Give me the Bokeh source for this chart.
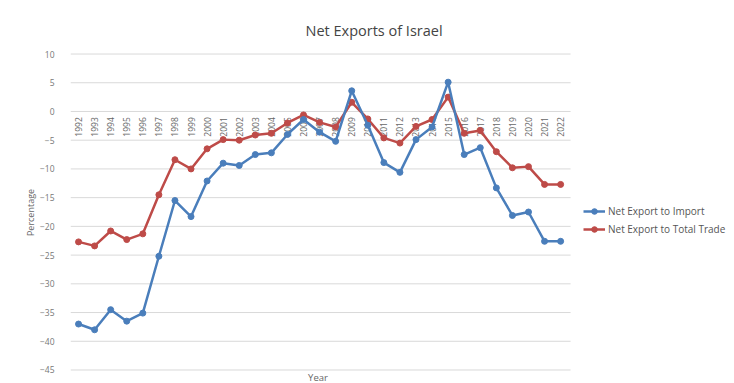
import math
from bokeh.plotting import figure
from bokeh.models import Range1d, FixedTicker, Label, Legend, LegendItem, ColumnDataSource
from bokeh.core.properties import value
from bokeh.embed import file_html
from bokeh.resources import INLINE

years = list(range(1992, 2023))
year_labels = [str(y) for y in years]
net_export_to_import = [-37.0, -38.0, -34.5, -36.5, -35.1, -25.2, -15.5, -18.3, -12.1, -9.0,
                        -9.4, -7.5, -7.2, -4.0, -1.4, -3.6, -5.2, 3.6, -2.4, -8.9,
                        -10.6, -4.9, -2.7, 5.1, -7.5, -6.3, -13.3, -18.1, -17.5, -22.6, -22.6]
net_export_to_total = [-22.7, -23.4, -20.8, -22.3, -21.3, -14.5, -8.4, -10.0, -6.5, -4.9,
                       -5.0, -4.1, -3.8, -2.0, -0.6, -1.9, -2.7, 1.6, -1.3, -4.6,
                       -5.5, -2.6, -1.4, 2.5, -3.8, -3.3, -7.0, -9.8, -9.6, -12.7, -12.7]
y_ticks = list(range(-45, 15, 5))

FONT = "Open Sans"
BLUE = "#4A7EBB"
RED = "#BE4B48"

X_LO, X_HI = 1991.5, 2022.62

p = figure(width=734, height=383, output_backend="svg", toolbar_location=None,
           x_range=Range1d(X_LO, 2032.82), y_range=Range1d(-47.35, 12.18),
           min_border_left=70, min_border_right=0, min_border_top=41, min_border_bottom=0)
p.outline_line_color = None
p.background_fill_color = "white"
p.border_fill_color = "white"

p.title.text = "Net Exports of Israel"
p.title.align = "left"
p.title.offset = 235
p.title.standoff = 3
p.title.text_font = FONT
p.title.text_font_size = "14.5px"
p.title.text_font_style = "normal"
p.title.text_color = "#444444"

p.xaxis.visible = False
p.xgrid.grid_line_color = None
p.ygrid.grid_line_color = None
p.yaxis.ticker = FixedTicker(ticks=y_ticks)
p.yaxis.axis_line_color = None
p.yaxis.major_tick_line_color = None
p.yaxis.minor_tick_line_color = None
p.yaxis.major_label_standoff = 10
p.yaxis.major_label_text_font = FONT
p.yaxis.major_label_text_font_size = "8.5px"
p.yaxis.major_label_text_color = "#777777"
p.yaxis.axis_label = "Percentage"
p.yaxis.axis_label_text_font = FONT
p.yaxis.axis_label_text_font_size = "9px"
p.yaxis.axis_label_text_font_style = "normal"
p.yaxis.axis_label_text_color = "#666666"
p.yaxis.axis_label_standoff = 0

# horizontal gridlines spanning the plot area only
p.segment(x0=X_LO, x1=X_HI, y0=y_ticks, y1=y_ticks, line_color="#D9D9D9", line_width=1)

src = ColumnDataSource(dict(x=years, a=net_export_to_import, b=net_export_to_total, t=year_labels))

# year labels hanging below the zero line
p.text(x="x", y=-1.0, text="t", source=src, angle=math.pi / 2, text_align="right",
       text_baseline="middle", text_font=value(FONT), text_font_size="8.5px", text_color="#666666")

lb = p.line("x", "b", source=src, line_color=RED, line_width=2.5)
cb = p.scatter("x", "b", source=src, size=6, fill_color=RED, line_color=RED)
la = p.line("x", "a", source=src, line_color=BLUE, line_width=2.5)
ca = p.scatter("x", "a", source=src, size=6, fill_color=BLUE, line_color=BLUE)

legend = Legend(items=[LegendItem(label="Net Export to Import", renderers=[la, ca]),
                       LegendItem(label="Net Export to Total Trade", renderers=[lb, cb])],
                location=(513, 147), label_text_font=FONT, label_text_font_size="10px",
                label_text_color="#555555", glyph_width=22, glyph_height=14,
                label_height=14, spacing=4, padding=0, margin=0, border_line_color=None,
                background_fill_alpha=0, label_standoff=3)
p.add_layout(legend, "center")

p.add_layout(Label(x=2006.9, y=-46.3, text="Year", text_align="center",
                   text_baseline="middle", text_font=FONT, text_font_size="9.5px",
                   text_color="#666666"))

open("out.html", "w").write(file_html(p, INLINE))
